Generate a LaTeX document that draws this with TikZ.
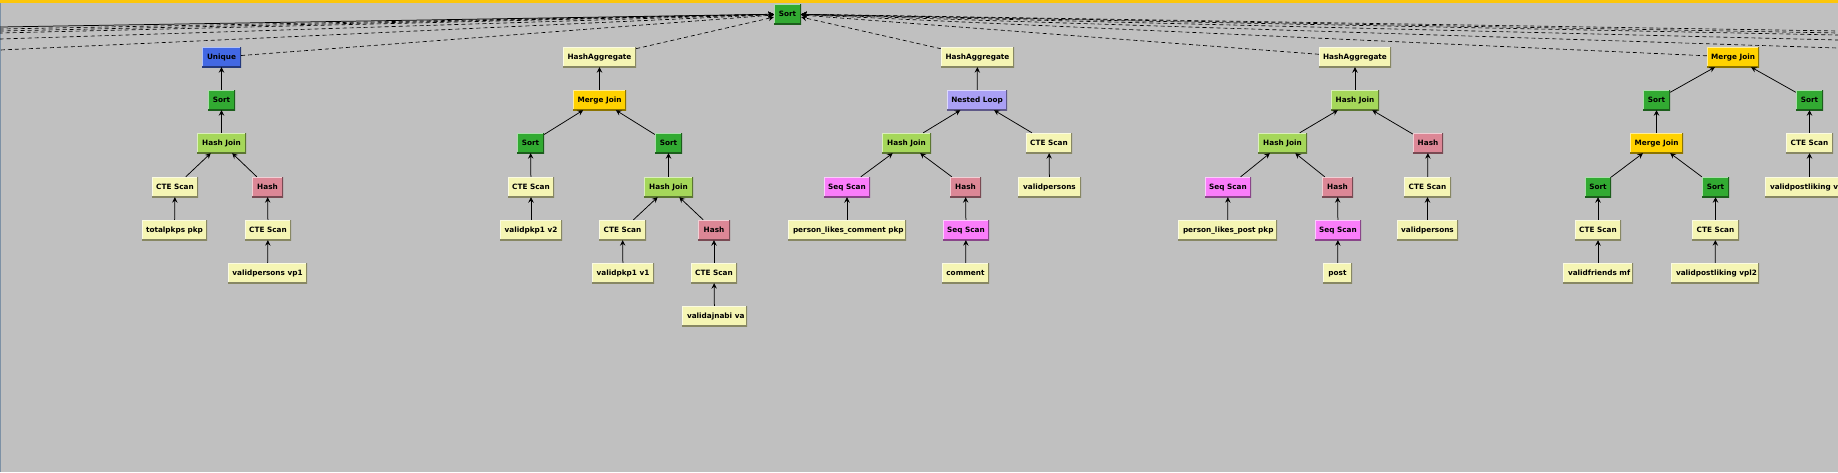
\documentclass[tikz,border=0pt]{standalone}
\usepackage{fontspec}
\newfontfamily\nodefam{DejaVu Sans}
\usetikzlibrary{arrows.meta}
\definecolor{bgc}{RGB}{192,192,192}
\definecolor{topc}{RGB}{252,198,10}
\definecolor{leftc}{RGB}{125,145,165}
\definecolor{cBlue}{RGB}{66,104,228}
\definecolor{cSort}{RGB}{50,170,50}
\definecolor{cHJ}{RGB}{165,215,90}
\definecolor{cPale}{RGB}{245,245,180}
\definecolor{cHash}{RGB}{220,135,150}
\definecolor{cMerge}{RGB}{255,210,0}
\definecolor{cNL}{RGB}{170,160,245}
\definecolor{cSeq}{RGB}{250,125,250}
\newcommand\clippedlabel[3]{%
  \begin{scope}
    \clip (#1.south west) rectangle (#1.north east);
    \node[txt] (#2) at ([xshift=5pt]#1.west) {#3};
  \end{scope}}
\tikzset{
  lblfont/.style={font=\nodefam\bfseries\fontsize{7.3pt}{8pt}\selectfont, text=black},
  box/.style={rectangle, inner sep=0pt, minimum height=20pt, fill=#1, lblfont,
    text height=5.5pt, text depth=1.5pt,
    path picture={
      \draw[line width=2.4pt, #1!40!white]
        (path picture bounding box.south west) -- (path picture bounding box.north west)
        -- (path picture bounding box.north east);
      \draw[line width=3pt, #1!55!black]
        (path picture bounding box.north east) -- (path picture bounding box.south east)
        -- (path picture bounding box.south west);
    }},
  txt/.style={lblfont, inner sep=0pt, text height=5.5pt, text depth=1.5pt, anchor=west},
  edge/.style={-{Stealth[length=5.5pt,width=5.5pt,inset=2pt]}, line width=0.75pt, black},
  dedge/.style={edge, line width=0.65pt, dash pattern=on 4pt off 3pt},
}
\begin{document}
\begin{tikzpicture}[x=1pt,y=-1pt]
\useasboundingbox (0,0) rectangle (1838,472);
\fill[bgc] (0,0) rectangle (1838,472);
\fill[topc] (0,0) rectangle (1838,3);
\fill[leftc] (0,3) rectangle (1.3,472);

% root
\node[box=cSort, minimum width=27pt] (root) at (787.5,14) {Sort};

% off-screen siblings
\coordinate (L1) at (-1817,57);
\coordinate (L2) at (-1470,57);
\coordinate (L3) at (-1204,57);
\coordinate (L4) at (-995,57);
\coordinate (L5) at (-567,57);
\coordinate (L6) at (-153,57);
\coordinate (R1) at (2116,57);
\coordinate (R2) at (2525,57);
\coordinate (R3) at (2938,57);
\coordinate (R4) at (3165,57);
\coordinate (R5) at (3445,57);

% tree 1
\node[box=cBlue, minimum width=39pt] (u1) at (221.5,57) {Unique};
\node[box=cSort, minimum width=27pt] (s1) at (221.5,100) {Sort};
\node[box=cHJ, minimum width=49pt] (hj1) at (221.5,143) {Hash Join};
\node[box=cPale, minimum width=46pt] (cte1a) at (175,187) {CTE Scan};
\node[box=cHash, minimum width=31pt] (h1) at (267.5,187) {Hash};
\node[box=cPale, minimum width=65pt] (tp) at (174.5,230) {totalpkps pkp};
\node[box=cPale, minimum width=46pt] (cte1b) at (268,230) {CTE Scan};
\node[box=cPale, minimum width=79pt] (vp1) at (267.5,273) {validpersons vp1};

% tree 2
\node[box=cPale, minimum width=73pt] (ha2) at (599.5,57) {HashAggregate};
\node[box=cMerge, minimum width=53pt] (mj2) at (599.5,100) {Merge Join};
\node[box=cSort, minimum width=27pt] (s2a) at (530.5,143) {Sort};
\node[box=cSort, minimum width=27pt] (s2b) at (668.5,143) {Sort};
\node[box=cPale, minimum width=46pt] (cte2a) at (531,187) {CTE Scan};
\node[box=cHJ, minimum width=49pt] (hj2) at (668.5,187) {Hash Join};
\node[box=cPale, minimum width=62pt] (v2) at (531,230) {validpkp1 v2};
\node[box=cPale, minimum width=47pt] (cte2b) at (622.5,230) {CTE Scan};
\node[box=cHash, minimum width=32pt] (h2) at (714,230) {Hash};
\node[box=cPale, minimum width=62pt] (v1) at (623,273) {validpkp1 v1};
\node[box=cPale, minimum width=46pt] (cte2c) at (714,273) {CTE Scan};
\node[box=cPale, minimum width=65pt] (va) at (714.5,316) {};
\clippedlabel{va}{vat}{validajnabi va}

% tree 3
\node[box=cPale, minimum width=73pt] (ha3) at (977.5,57) {HashAggregate};
\node[box=cNL, minimum width=60pt] (nl3) at (977,100) {Nested Loop};
\node[box=cHJ, minimum width=49pt] (hj3) at (906.5,143) {Hash Join};
\node[box=cPale, minimum width=46pt] (cte3) at (1049,143) {CTE Scan};
\node[box=cSeq, minimum width=46pt] (ss3a) at (847,187) {Seq Scan};
\node[box=cHash, minimum width=31pt] (h3) at (965.5,187) {Hash};
\node[box=cPale, minimum width=63pt] (vp3) at (1049.5,187) {validpersons};
\node[box=cPale, minimum width=118pt] (plc) at (847,230) {};
\clippedlabel{plc}{plct}{person\_likes\_comment pkp}
\node[box=cSeq, minimum width=46pt] (ss3b) at (966,230) {Seq Scan};
\node[box=cPale, minimum width=47pt] (cm) at (965.5,273) {comment};

% tree 4
\node[box=cPale, minimum width=72pt] (ha4) at (1355,57) {HashAggregate};
\node[box=cHJ, minimum width=48pt] (hj4) at (1355,100) {Hash Join};
\node[box=cHJ, minimum width=49pt] (hj4b) at (1282.5,143) {Hash Join};
\node[box=cHash, minimum width=30pt] (h4a) at (1428,143) {Hash};
\node[box=cSeq, minimum width=46pt] (ss4a) at (1228,187) {Seq Scan};
\node[box=cHash, minimum width=31pt] (h4b) at (1337.5,187) {Hash};
\node[box=cPale, minimum width=47pt] (cte4) at (1427.5,187) {CTE Scan};
\node[box=cPale, minimum width=99pt] (plp) at (1227.5,230) {};
\clippedlabel{plp}{plpt}{person\_likes\_post pkp}
\node[box=cSeq, minimum width=46pt] (ss4b) at (1338,230) {Seq Scan};
\node[box=cPale, minimum width=61pt] (vp4) at (1427.5,230) {validpersons};
\node[box=cPale, minimum width=29pt] (post) at (1337.5,273) {post};

% tree 5
\node[box=cMerge, minimum width=52pt] (mj5) at (1733,57) {Merge Join};
\node[box=cSort, minimum width=27pt] (s5a) at (1656.5,100) {Sort};
\node[box=cSort, minimum width=27pt] (s5b) at (1809.5,100) {Sort};
\node[box=cMerge, minimum width=53pt] (mj5b) at (1656.5,143) {Merge Join};
\node[box=cPale, minimum width=47pt] (cte5a) at (1809.5,143) {CTE Scan};
\node[box=cSort, minimum width=26pt] (s5c) at (1598,187) {Sort};
\node[box=cSort, minimum width=27pt] (s5d) at (1715.5,187) {Sort};
\node[box=cPale, minimum width=89pt] (vpl) at (1809.5,187) {};
\clippedlabel{vpl}{vplt}{validpostliking v}
\node[box=cPale, minimum width=46pt] (cte5b) at (1598,230) {CTE Scan};
\node[box=cPale, minimum width=47pt] (cte5c) at (1715.5,230) {CTE Scan};
\node[box=cPale, minimum width=70pt] (mf) at (1598,273) {};
\clippedlabel{mf}{mft}{validfriends mf}
\node[box=cPale, minimum width=88pt] (vpl2) at (1715,273) {};
\clippedlabel{vpl2}{vpl2t}{validpostliking vpl2}

% connectors to root
\draw[edge] (L1) -- (root);
\foreach \c in {L2,L3,L4,L5,L6,R1,R2,R3,R4,R5}
  \draw[dedge] (\c) -- (root);
\foreach \c in {u1,ha2,ha3,ha4,mj5}
  \draw[dedge] (\c) -- (root);

% tree connectors
\foreach \a/\b in {s1/u1, hj1/s1, cte1a/hj1, h1/hj1, tp/cte1a, cte1b/h1, vp1/cte1b,
  mj2/ha2, s2a/mj2, s2b/mj2, cte2a/s2a, v2/cte2a, hj2/s2b, cte2b/hj2, h2/hj2, v1/cte2b, cte2c/h2, va/cte2c,
  nl3/ha3, hj3/nl3, cte3/nl3, ss3a/hj3, h3/hj3, vp3/cte3, plc/ss3a, ss3b/h3, cm/ss3b,
  hj4/ha4, hj4b/hj4, h4a/hj4, ss4a/hj4b, h4b/hj4b, cte4/h4a, plp/ss4a, ss4b/h4b, vp4/cte4, post/ss4b,
  s5a/mj5, s5b/mj5, mj5b/s5a, cte5a/s5b, s5c/mj5b, s5d/mj5b, vpl/cte5a, cte5b/s5c, cte5c/s5d, mf/cte5b, vpl2/cte5c}
  \draw[edge] (\a) -- (\b);
\end{tikzpicture}
\end{document}
